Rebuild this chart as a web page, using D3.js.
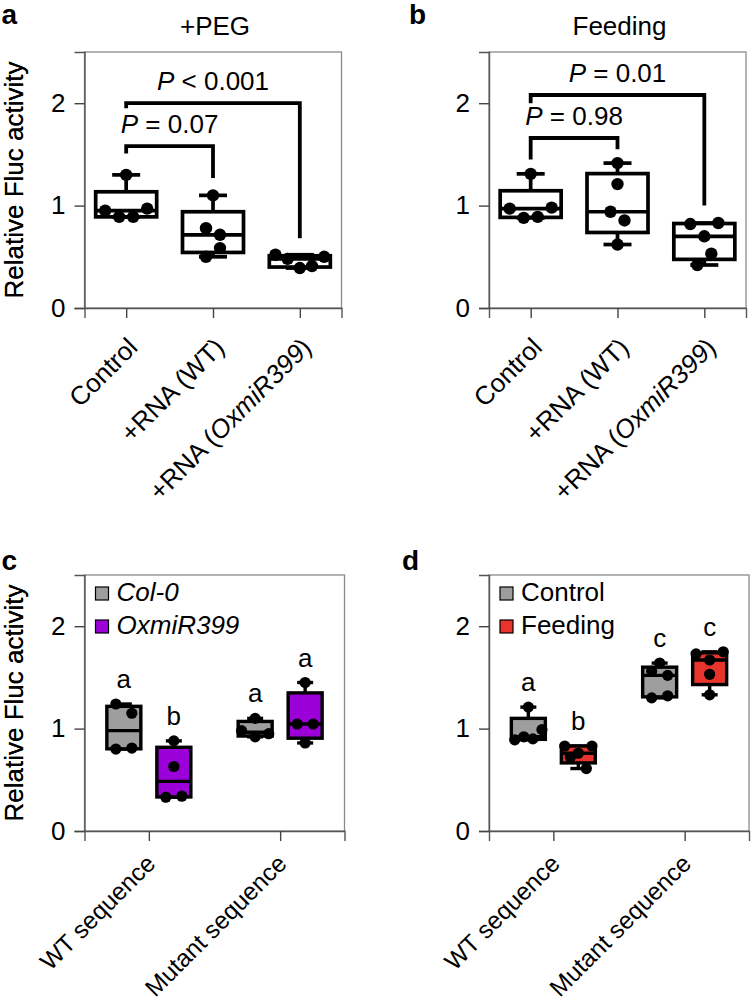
<!DOCTYPE html>
<html>
<head>
<meta charset="utf-8">
<script src="https://cdn.jsdelivr.net/npm/d3@7"></script>
<style>
  body { margin: 0; background: #fff; }
  text { font-family: "Liberation Sans", Arial, Helvetica, sans-serif; fill: #000; white-space: pre; }
</style>
</head>
<body>
<svg id="fig" width="751" height="1004"></svg>
<script>
// ---- data ----
var yTicks = [0, 1, 2];

var topCategories = ["Control", "+RNA (WT)", "+RNA (OxmiR399)"];
var pegControl = [0.95, 0.89, 0.89, 0.97, 1.30];
var pegRnaWT = [1.10, 0.78, 0.715, 0.50, 0.585];
var pegRnaOx = [0.52, 0.48, 0.39, 0.41, 0.50];
var feedControl = [0.97, 0.88, 0.89, 0.98, 1.31];
var feedRnaWT = [1.415, 1.21, 0.94, 0.855, 0.62];
var feedRnaOx = [0.82, 0.42, 0.70, 0.53, 0.83];

var pegBrackets = [
  { from: 0, to: 1, level: 1.58, leftEnd: 1.51, rightEnd: 1.27, label: "P = 0.07" },
  { from: 0, to: 2, level: 2.0, leftEnd: 1.95, rightEnd: 0.68, label: "P < 0.001" }
];
var feedBrackets = [
  { from: 0, to: 1, level: 1.66, leftEnd: 1.45, rightEnd: 1.55, label: "P = 0.98" },
  { from: 0, to: 2, level: 2.08, leftEnd: 2.0, rightEnd: 1.0, label: "P = 0.01" }
];

var seqCategories = ["WT sequence", "Mutant sequence"];
var lineSeries = ["Col-0", "OxmiR399"];
var col0WT = [1.24, 0.80, 1.15, 0.81];
var oxWT = [0.33, 0.34, 0.63, 0.88];
var col0Mut = [0.98, 0.92, 0.95, 1.10];
var oxMut = [1.45, 1.045, 1.045, 0.86];
var lineLetters = [["a", "b"], ["a", "a"]];

var treatSeries = ["Control", "Feeding"];
var ctrlWT = [1.21, 0.89, 0.92, 0.90, 0.99];
var fedWT = [0.83, 0.76, 0.72, 0.61, 0.83];
var ctrlMut = [1.56, 1.30, 1.52, 1.32, 1.64];
var fedMut = [1.73, 1.33, 1.67, 1.53, 1.75];
var treatLetters = [["a", "b"], ["c", "c"]];

// ---- helpers ----
var svg = d3.select("#fig");

var rich = function(sel, str) {
  str.split(/(OxmiR399|Col-0|P(?= ))/).forEach(function(part, i) {
    if (!part) return;
    sel.append("tspan").text(part).attr("font-style", i % 2 ? "italic" : null);
  });
};

// quartiles the way Prism does it ((n+1)p)
var quart = function(sorted, p) {
  var n = sorted.length, h = (n + 1) * p;
  var lo = Math.max(1, Math.min(n, Math.floor(h)));
  var hi = Math.max(1, Math.min(n, Math.ceil(h)));
  return sorted[lo - 1] + (h - Math.floor(h)) * (sorted[hi - 1] - sorted[lo - 1]);
};

// spread points with nearly equal values side by side
var swarm = function(values, y, r, maxStep, span) {
  var idx = values.map(function(v, i) { return i; })
    .sort(function(a, b) { return values[a] - values[b]; });
  var bins = [], cur = null;
  idx.forEach(function(i) {
    var py = y(values[i]);
    if (cur && Math.abs(cur.start - py) <= 2 * r + 1) cur.items.push(i);
    else { cur = { start: py, items: [i] }; bins.push(cur); }
  });
  var off = [];
  bins.forEach(function(b) {
    b.items.sort(d3.ascending);
    var n = b.items.length;
    var step = n > 1 ? Math.min(maxStep, span / (n - 1)) : 0;
    b.items.forEach(function(i, k) { off[i] = (k - (n - 1) / 2) * step; });
  });
  return off;
};

var drawPanel = function(cfg) {
  var g = svg.append("g").attr("transform", "translate(" + cfg.left + "," + cfg.top + ")");
  var y = d3.scaleLinear().domain([0, 2.5]).range([cfg.height, 0]);
  var x = d3.scalePoint().domain(cfg.categories).range([0, cfg.width]).padding(cfg.pad);
  var sub = d3.scaleBand().domain(cfg.series).range([-cfg.groupSpan / 2, cfg.groupSpan / 2]);

  // frame
  g.append("rect")
    .attr("width", cfg.width).attr("height", cfg.height)
    .attr("fill", "none").attr("stroke", "#8a8a8a").attr("stroke-width", 1.3);

  // axes
  var ya = g.append("g").call(d3.axisLeft(y).tickValues(yTicks).tickSize(10).tickPadding(9).tickFormat(d3.format("d")));
  var xa = g.append("g").attr("transform", "translate(0," + cfg.height + ")")
    .call(d3.axisBottom(x).tickSize(10).tickFormat(""));
  [ya, xa].forEach(function(a) {
    a.select(".domain").attr("stroke", "#555").attr("stroke-width", 1.4);
    a.selectAll(".tick line").attr("stroke", "#444").attr("stroke-width", 1.4);
  });
  ya.selectAll(".tick text").attr("font-size", 26).attr("fill", "#000")
    .attr("font-family", "Liberation Sans, Arial, sans-serif");

  // x labels, rotated
  cfg.categories.forEach(function(c) {
    var t = g.append("text")
      .attr("transform", "translate(" + (x(c) + cfg.labelDx) + "," + (cfg.height + cfg.labelDy) + ") rotate(-45)")
      .attr("text-anchor", "end").attr("font-size", cfg.labelSize);
    rich(t, c);
  });

  // y label
  g.append("text")
    .attr("transform", "translate(" + (-cfg.left + 22.5) + "," + (cfg.height / 2) + ") rotate(-90)")
    .attr("text-anchor", "middle").attr("font-size", 26)
    .text("Relative Fluc activity");

  // panel letter
  svg.append("text").attr("x", cfg.left + cfg.letterDx).attr("y", cfg.top + cfg.letterDy)
    .attr("font-size", 28).attr("font-weight", "bold").text(cfg.letter);

  if (cfg.title) {
    g.append("text").attr("x", cfg.width / 2 + 2).attr("y", -17)
      .attr("text-anchor", "middle").attr("font-size", 26).text(cfg.title);
  }

  // boxes
  cfg.groups.forEach(function(grp) {
    var cx = x(grp.category) + sub(grp.series) + sub.bandwidth() / 2;
    var s = grp.values.slice().sort(d3.ascending);
    var q1 = quart(s, 0.25), med = quart(s, 0.5), q3 = quart(s, 0.75);
    var lo = s[0], hi = s[s.length - 1];
    var bw = cfg.boxWidth, cw = cfg.capWidth;
    var bg = g.append("g").attr("stroke", "#000").attr("stroke-width", cfg.stroke);

    bg.append("line").attr("x1", cx).attr("x2", cx).attr("y1", y(q3)).attr("y2", y(hi));
    bg.append("line").attr("x1", cx - cw / 2).attr("x2", cx + cw / 2).attr("y1", y(hi)).attr("y2", y(hi));
    bg.append("line").attr("x1", cx).attr("x2", cx).attr("y1", y(q1)).attr("y2", y(lo));
    bg.append("line").attr("x1", cx - cw / 2).attr("x2", cx + cw / 2).attr("y1", y(lo)).attr("y2", y(lo));
    bg.append("rect")
      .attr("x", cx - bw / 2).attr("width", bw)
      .attr("y", y(q3)).attr("height", y(q1) - y(q3))
      .attr("fill", grp.fill);
    bg.append("line").attr("x1", cx - bw / 2).attr("x2", cx + bw / 2).attr("y1", y(med)).attr("y2", y(med));

    var off = swarm(grp.values, y, cfg.r, cfg.maxStep, bw * 0.8);
    g.selectAll(null).data(grp.values).enter().append("circle")
      .attr("cx", function(d, i) { return cx + off[i]; })
      .attr("cy", function(d) { return y(d); })
      .attr("r", cfg.r).attr("fill", "#000");

    if (grp.letter) {
      g.append("text").attr("x", cx).attr("y", y(hi) - 16)
        .attr("text-anchor", "middle").attr("font-size", 26).text(grp.letter);
    }
  });

  // significance brackets
  (cfg.brackets || []).forEach(function(b) {
    var x1 = x(cfg.categories[b.from]), x2 = x(cfg.categories[b.to]);
    g.append("path")
      .attr("d", "M" + x1 + "," + y(b.leftEnd) + "V" + y(b.level) + "H" + x2 + "V" + y(b.rightEnd))
      .attr("fill", "none").attr("stroke", "#000").attr("stroke-width", 3.8);
    var t = g.append("text").attr("x", (x1 + x2) / 2).attr("y", y(b.level) - 13)
      .attr("text-anchor", "middle").attr("font-size", 26);
    rich(t, b.label);
  });

  // legend
  if (cfg.legend) {
    cfg.series.forEach(function(s, i) {
      var ly = 12 + i * 33;
      g.append("rect").attr("x", 11).attr("y", ly).attr("width", 13).attr("height", 13)
        .attr("fill", cfg.colors[i]).attr("stroke", "#000").attr("stroke-width", 1.2);
      var t = g.append("text").attr("x", 32).attr("y", ly + 14).attr("font-size", 26);
      rich(t, s);
    });
  }
};

var topGroups = function(a, b, c) {
  return [a, b, c].map(function(v, i) {
    return { category: topCategories[i], series: "all", values: v, fill: "#fff" };
  });
};

var bottomGroups = function(cats, series, sets, letters, colors) {
  var out = [];
  cats.forEach(function(c, ci) {
    series.forEach(function(s, si) {
      out.push({ category: c, series: s, values: sets[ci][si], fill: colors[si], letter: letters[ci][si] });
    });
  });
  return out;
};

var topBase = {
  top: 52, width: 257, height: 256, pad: 0.48, categories: topCategories, series: ["all"],
  groupSpan: 0, boxWidth: 61, capWidth: 28, stroke: 3.7, r: 6.2, maxStep: 14,
  labelDx: 13, labelDy: 41, labelSize: 26, letterDy: -28
};
var bottomBase = {
  top: 575, width: 260, height: 256, pad: 0.49, categories: seqCategories,
  groupSpan: 100, boxWidth: 34, capWidth: 16, stroke: 3.4, r: 5.6, maxStep: 16,
  labelDx: 8, labelDy: 34, labelSize: 24.5, letterDy: -5, legend: true
};

drawPanel(Object.assign({}, topBase, {
  left: 84.5, letter: "a", letterDx: -83, title: "+PEG",
  groups: topGroups(pegControl, pegRnaWT, pegRnaOx), brackets: pegBrackets
}));
drawPanel(Object.assign({}, topBase, {
  left: 489, letter: "b", letterDx: -80, title: "Feeding",
  groups: topGroups(feedControl, feedRnaWT, feedRnaOx), brackets: feedBrackets
}));
var lineColors = ["#9e9e9e", "#9b00d9"];
drawPanel(Object.assign({}, bottomBase, {
  left: 84.5, letter: "c", letterDx: -83, series: lineSeries, colors: lineColors,
  groups: bottomGroups(seqCategories, lineSeries, [[col0WT, oxWT], [col0Mut, oxMut]], lineLetters, lineColors)
}));
var treatColors = ["#9e9e9e", "#e8342c"];
drawPanel(Object.assign({}, bottomBase, {
  left: 489, letter: "d", letterDx: -87, series: treatSeries, colors: treatColors,
  groups: bottomGroups(seqCategories, treatSeries, [[ctrlWT, fedWT], [ctrlMut, fedMut]], treatLetters, treatColors)
}));
</script>
</body>
</html>
